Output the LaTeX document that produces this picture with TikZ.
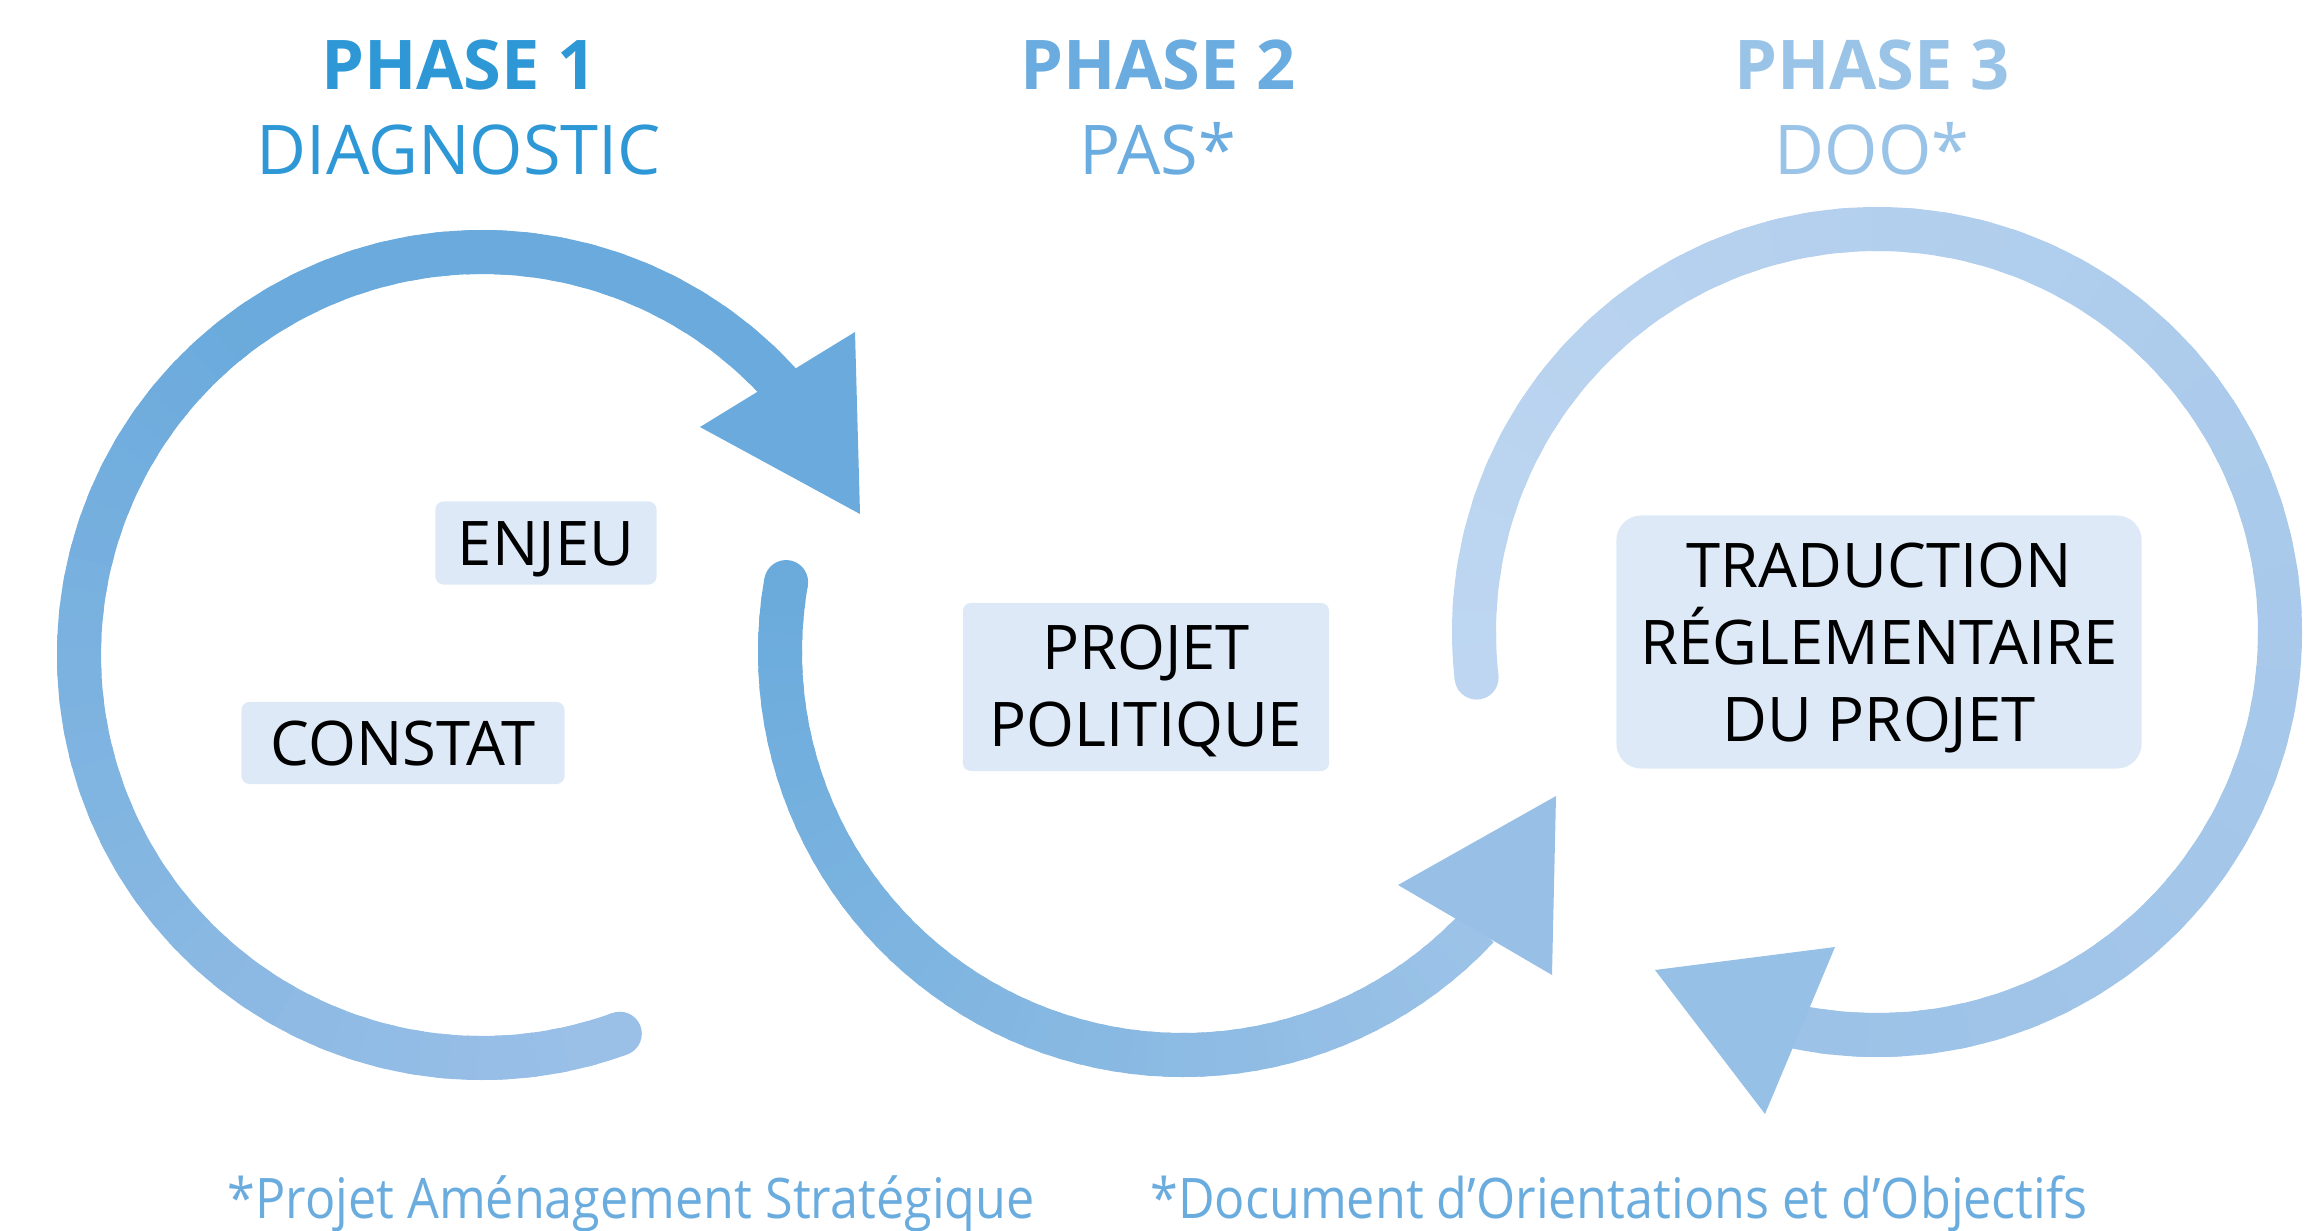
\documentclass[tikz,border=0pt]{standalone}
\usepackage{fontspec}
\setmainfont{Open Sans}
\usetikzlibrary{positioning}

\definecolor{phaseA}{HTML}{2E98D6}
\definecolor{phaseB}{HTML}{6AACDF}
\definecolor{phaseC}{HTML}{9AC3E8}
\definecolor{boxfill}{HTML}{DDE9F7}
\definecolor{noteblue}{HTML}{6BACDF}
\definecolor{ringAa}{HTML}{9BC0E7}
\definecolor{ringAb}{HTML}{6AAADC}
\definecolor{ringBa}{HTML}{6AABDC}
\definecolor{ringBb}{HTML}{9CC2E7}
\definecolor{ringCa}{HTML}{BED6F1}
\definecolor{ringCb}{HTML}{9CC2E7}
\definecolor{headB}{HTML}{98C0E6}
\definecolor{headC}{HTML}{97C0E6}

\newcommand\narrow[1]{\scalebox{0.9}[1]{#1}}

\begin{document}
\begin{tikzpicture}[x=0.01cm, y=0.01cm,
  ttl/.style={font=\fontsize{19.5}{23}\selectfont\bfseries, anchor=base},
  sub/.style={font=\fontsize{19.5}{23}\selectfont, anchor=base},
  lbl/.style={fill=boxfill, rounded corners=0.08cm, font=\fontsize{17.5}{21.9}\selectfont, align=center, inner sep=0pt},
  note/.style={font=\fontsize{15.9}{19}\selectfont, text=noteblue, anchor=base west},
  seg/.style={line width=0.44cm}]
\useasboundingbox (0,0) rectangle (2324,-1230);

% ring 1 : diagnostic
\begin{scope}[shift={(482,-655)}]
\foreach \n [evaluate=\n as \sa using 290-4.1167*\n,
             evaluate=\n as \ea using 290-4.1167*(\n+1.4),
             evaluate={\n as \mix using min(100,2.5*\n)}] in {0,...,59}
  \draw[seg, ringAb!\mix!ringAa] (\sa:403) arc[start angle=\sa, end angle=\ea, radius=403];
\fill[ringAa] (290:403) circle[radius=22];
\end{scope}
\fill[ringAb] (700,-427) -- (855,-332) -- (860,-514) -- cycle;

% ring 2 : pas
\begin{scope}[shift={(1183,-652)}]
\foreach \n [evaluate=\n as \sa using 170+2.4333*\n,
             evaluate=\n as \ea using 170+2.4333*(\n+1.4),
             evaluate=\n as \mix using 1.6949*\n] in {0,...,59}
  \draw[seg, ringBb!\mix!ringBa] (\sa:403) arc[start angle=\sa, end angle=\ea, radius=403];
\fill[ringBa] (170:403) circle[radius=22];
\end{scope}
\fill[headB] (1398,-885) -- (1556,-796) -- (1552,-975) -- cycle;

% ring 3 : doo
\begin{scope}[shift={(1877,-632)}]
\foreach \n [evaluate=\n as \sa using 186.5-4.7917*\n,
             evaluate=\n as \ea using 186.5-4.7917*(\n+1.4),
             evaluate=\n as \mix using 1.6949*\n] in {0,...,59}
  \draw[seg, ringCb!\mix!ringCa] (\sa:403) arc[start angle=\sa, end angle=\ea, radius=403];
\fill[ringCa] (186.5:403) circle[radius=22];
\end{scope}
\fill[headC] (1655,-970) -- (1835,-947) -- (1765,-1114) -- cycle;

% titles
\node[ttl, text=phaseA] (ph1) at (459,-89) {PHASE 1};
\node[sub, text=phaseA] (diag) at (459,-174) {DIAGNOSTIC};
\node[ttl, text=phaseB] (ph2) at (1158,-89) {PHASE 2};
\node[sub, text=phaseB] (pas) at (1158,-174) {PAS*};
\node[ttl, text=phaseC] (ph3) at (1872,-89) {PHASE 3};
\node[sub, text=phaseC] (doo) at (1872,-174) {DOO*};

% boxes
\node[lbl, minimum width=2.21cm, minimum height=0.83cm, text height=0.44cm, text depth=0cm] (enjeu) at (546,-543) {ENJEU};
\node[lbl, minimum width=3.23cm, minimum height=0.82cm, text height=0.44cm, text depth=0cm] (constat) at (403,-743) {CONSTAT};
\node[lbl, minimum width=3.66cm, minimum height=1.68cm] (projet) at (1146,-687) {\rule{0pt}{0.53cm}PROJET\\POLITIQUE};
\node[lbl, rounded corners=0.25cm, minimum width=5.25cm, minimum height=2.53cm] (trad) at (1879,-642) {\rule{0pt}{0.57cm}TRADUCTION\\RÉGLEMENTAIRE\\DU PROJET};

% footnotes
\node[note] (pasnote) at (215,-1218) {\narrow{*Projet Aménagement Stratégique}};
\node[note] (doonote) at (1138,-1218) {\narrow{*Document d’Orientations et d’Objectifs}};
\end{tikzpicture}
\end{document}
